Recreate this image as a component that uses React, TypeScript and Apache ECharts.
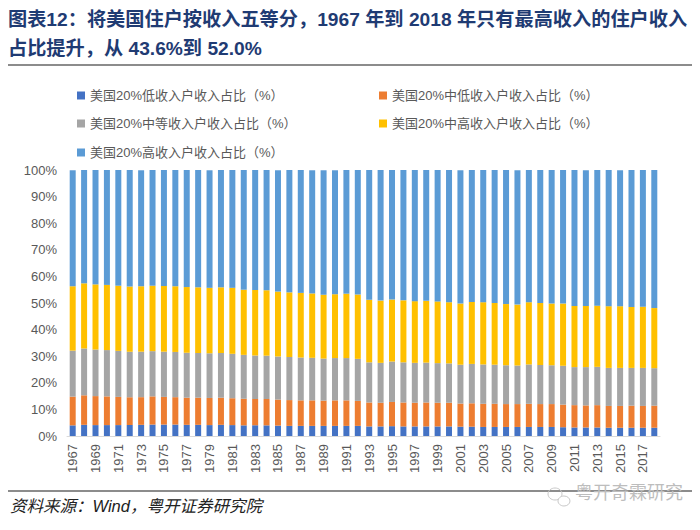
import { useEffect, useRef } from "react";
import * as echarts from "echarts";

const years = Array.from({ length: 52 }, (_, i) => String(1967 + i));

// 收入五等分占比（%），1967–2018
const low = [4.0, 4.2, 4.1, 4.1, 4.1, 4.1, 4.2, 4.3, 4.3, 4.3, 4.2, 4.2, 4.1, 4.2, 4.1, 4.0, 4.0, 4.0, 3.9, 3.8, 3.8, 3.8, 3.8, 3.8, 3.8, 3.8, 3.6, 3.6, 3.7, 3.6, 3.6, 3.6, 3.6, 3.6, 3.5, 3.5, 3.4, 3.4, 3.4, 3.4, 3.4, 3.4, 3.4, 3.3, 3.2, 3.2, 3.2, 3.1, 3.1, 3.1, 3.1, 3.1];
const lowMid = [10.8, 11.1, 10.9, 10.8, 10.6, 10.5, 10.4, 10.6, 10.4, 10.3, 10.2, 10.2, 10.2, 10.2, 10.1, 10.0, 9.9, 9.9, 9.8, 9.7, 9.6, 9.6, 9.5, 9.6, 9.6, 9.4, 9.0, 8.9, 9.1, 9.0, 8.9, 9.0, 8.9, 8.9, 8.7, 8.8, 8.7, 8.7, 8.6, 8.6, 8.7, 8.6, 8.6, 8.5, 8.4, 8.3, 8.4, 8.2, 8.2, 8.3, 8.2, 8.3];
const mid = [17.3, 17.6, 17.5, 17.4, 17.3, 17.1, 17.1, 17.0, 17.0, 17.0, 16.9, 16.8, 16.8, 16.8, 16.7, 16.5, 16.4, 16.3, 16.2, 16.2, 16.1, 16.0, 15.8, 15.9, 15.9, 15.8, 15.1, 15.0, 15.2, 15.1, 15.0, 15.0, 14.9, 14.8, 14.6, 14.8, 14.8, 14.7, 14.6, 14.5, 14.8, 14.7, 14.6, 14.6, 14.3, 14.4, 14.4, 14.3, 14.3, 14.2, 14.3, 14.1];
const highMid = [24.2, 24.5, 24.5, 24.5, 24.5, 24.5, 24.6, 24.6, 24.7, 24.7, 24.7, 24.7, 24.6, 24.7, 24.8, 24.5, 24.6, 24.6, 24.4, 24.3, 24.3, 24.2, 24.0, 24.0, 24.2, 24.2, 23.5, 23.4, 23.3, 23.3, 23.2, 23.2, 23.2, 23.0, 23.0, 23.3, 23.4, 23.2, 23.0, 22.9, 23.4, 23.3, 23.2, 23.4, 23.0, 23.0, 23.0, 23.2, 23.2, 22.9, 23.0, 22.6];
const high = [43.6, 42.6, 43.0, 43.3, 43.5, 43.9, 43.6, 43.5, 43.6, 43.7, 44.0, 44.1, 44.2, 44.1, 44.3, 45.0, 45.1, 45.2, 45.6, 46.1, 46.2, 46.3, 46.8, 46.6, 46.5, 46.9, 48.9, 49.1, 48.7, 49.0, 49.4, 49.2, 49.4, 49.8, 50.1, 49.7, 49.8, 50.1, 50.4, 50.5, 49.7, 50.0, 50.3, 50.2, 51.1, 51.0, 51.0, 51.2, 51.1, 51.5, 51.5, 52.0];

const names = [
  "美国20%低收入户收入占比（%）",
  "美国20%中低收入户收入占比（%）",
  "美国20%中等收入户收入占比（%）",
  "美国20%中高收入户收入占比（%）",
  "美国20%高收入户收入占比（%）",
];
const colors = ["#4472C4", "#ED7D31", "#A5A5A5", "#FFC000", "#5B9BD5"];
const seriesData = [low, lowMid, mid, highMid, high];

const FONT = "'Liberation Sans', 'Noto Sans CJK SC', sans-serif";
const legendPos = [
  { left: 77, top: 89 },
  { left: 379, top: 89 },
  { left: 77, top: 117 },
  { left: 379, top: 117 },
  { left: 77, top: 146 },
];

export default function App() {
  const ref = useRef<HTMLDivElement>(null);

  useEffect(() => {
    if (!ref.current) return;
    const chart = echarts.init(ref.current, undefined, { renderer: "svg" });
    chart.setOption({
      animation: false,
      backgroundColor: "#fff",
      textStyle: { fontFamily: FONT },
      legend: names.map((n, i) => ({
        data: [n],
        left: legendPos[i].left,
        top: legendPos[i].top,
        padding: 0,
        itemWidth: 8,
        itemHeight: 8,
        itemGap: 3,
        icon: "rect",
        selectedMode: false,
        textStyle: { color: "#595959", fontSize: 13, fontFamily: FONT },
      })),
      grid: { left: 67, right: 40, top: 170, bottom: 94 },
      xAxis: {
        type: "category",
        data: years,
        axisLine: { lineStyle: { color: "#D9D9D9" } },
        axisTick: { interval: 1, lineStyle: { color: "#D9D9D9" }, length: 5 },
        axisLabel: { interval: 1, rotate: 90, color: "#595959", fontSize: 13, margin: 8 },
      },
      yAxis: {
        type: "value",
        min: 0,
        max: 100,
        interval: 10,
        axisLine: { show: false },
        axisTick: { show: false },
        splitLine: { show: false },
        axisLabel: { formatter: "{value}%", color: "#595959", fontSize: 13, margin: 10 },
      },
      series: seriesData.map((d, i) => ({
        name: names[i],
        type: "bar",
        stack: "total",
        data: d,
        barWidth: 6,
        itemStyle: { color: colors[i] },
      })),
      graphic: [
        {
          type: "text", left: 8, top: 10,
          style: { text: "图表12：将美国住户按收入五等分，1967 年到 2018 年只有最高收入的住户收入", fill: "#1F3B73", font: `bold 19.2px ${FONT}` },
        },
        {
          type: "text", left: 8, top: 39,
          style: { text: "占比提升，从 43.6%到 52.0%", fill: "#1F3B73", font: `bold 19.2px ${FONT}` },
        },
        { type: "line", shape: { x1: 8, y1: 65, x2: 692, y2: 65 }, style: { stroke: "#8C8C8C", lineWidth: 2 } },
        { type: "line", shape: { x1: 8, y1: 491, x2: 692, y2: 491 }, style: { stroke: "#8C8C8C", lineWidth: 2 } },
        {
          type: "text", left: 10, top: 498,
          style: { text: "资料来源：Wind，粤开证券研究院", fill: "#222", font: `italic 16.5px ${FONT}` },
        },
        { type: "ellipse", shape: { cx: 555, cy: 494, rx: 7, ry: 6 }, style: { fill: "none", stroke: "#C8C8C8", lineWidth: 1 } },
        { type: "ellipse", shape: { cx: 564, cy: 501, rx: 6, ry: 5 }, style: { fill: "#fff", stroke: "#C8C8C8", lineWidth: 1 } },
        {
          type: "text", left: 575, top: 484,
          style: { text: "粤开奇霖研究", fill: "#BDBDBD", font: `18px ${FONT}` },
        },
      ],
    });
    return () => chart.dispose();
  }, []);

  return <div ref={ref} style={{ position: "fixed", left: 0, top: 0, width: 700, height: 530 }} />;
}
